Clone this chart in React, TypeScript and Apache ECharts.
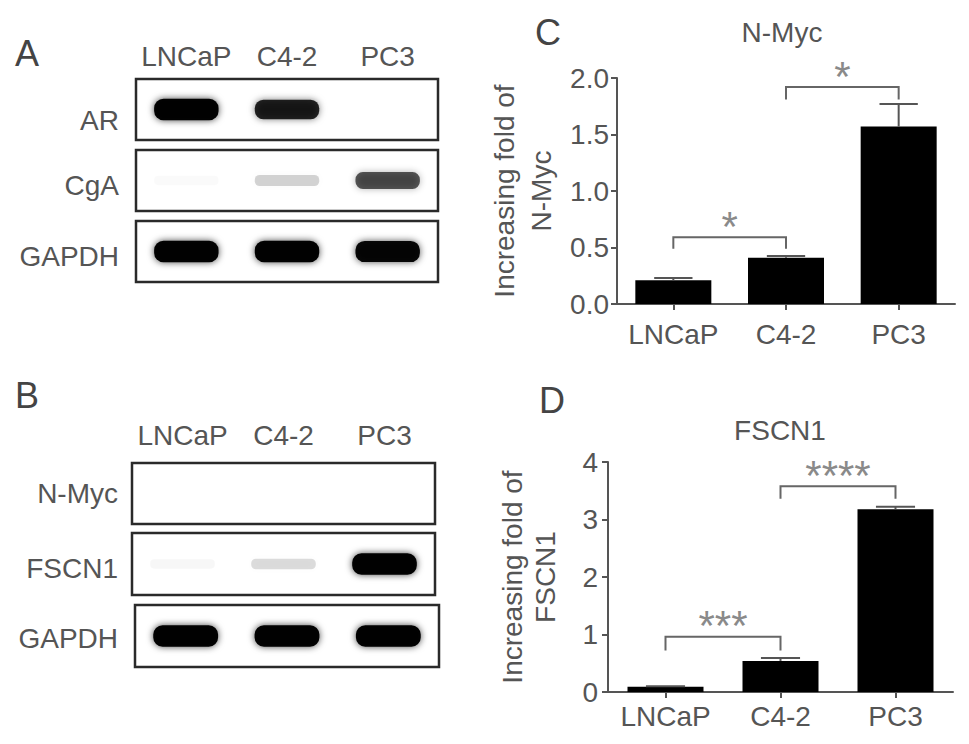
import React, { useEffect, useRef } from "react";
import * as echarts from "echarts";

// ---- data ----
const lanes = ["LNCaP", "C4-2", "PC3"];
const blotRowsA = ["AR", "CgA", "GAPDH"];
const blotRowsB = ["N-Myc", "FSCN1", "GAPDH"];
// band intensity (0 = no band, 1 = saturated)
const arBand = [0.97, 0.82, 0];
const cgaBand = [0.02, 0.16, 0.62];
const gapdhBandA = [0.97, 0.97, 0.94];
const nmycBand = [0, 0, 0];
const fscn1Band = [0.03, 0.13, 0.97];
const gapdhBandB = [0.97, 0.97, 0.97];

const cellLines = ["LNCaP", "C4-2", "PC3"];
const nmycMean = [0.21, 0.41, 1.57];
const nmycSem = [0.02, 0.015, 0.2];
const fscn1Mean = [0.09, 0.54, 3.18];
const fscn1Sem = [0.01, 0.05, 0.04];
const nmycBrackets = [
  { from: 0, to: 1, top: 0.59, leg: 0.49, label: "*" },
  { from: 1, to: 2, top: 1.92, leg: 1.81, label: "*" },
];
const fscn1Brackets = [
  { from: 0, to: 1, top: 0.96, leg: 0.72, label: "***" },
  { from: 1, to: 2, top: 3.58, leg: 3.36, label: "****" },
];

const FONT = "'Liberation Sans', Arial, Helvetica, sans-serif";
const TXT = "#555";

export default function App() {
  const ref = useRef<HTMLDivElement>(null);
  useEffect(() => {
    const chart = echarts.init(ref.current!, null, { renderer: "svg" });

    const blotGrids = [
      { left: 136, top: 79, width: 302, height: 61 },
      { left: 136, top: 150, width: 302, height: 61 },
      { left: 136, top: 221, width: 302, height: 61 },
      { left: 132, top: 463, width: 303, height: 61 },
      { left: 132, top: 533, width: 303, height: 62 },
      { left: 135, top: 605, width: 304, height: 62 },
    ];
    const rowNames = [...blotRowsA, ...blotRowsB];
    const rowShift = [11, 5, 5, 0, 4, 2];
    const rowMargin = [17, 17, 17, 14, 14, 17];
    const bands = [arBand, cgaBand, gapdhBandA, nmycBand, fscn1Band, gapdhBandB];

    const grids: any[] = blotGrids.map((g) => ({
      ...g,
      show: true,
      borderColor: "#2a2a2a",
      borderWidth: 2.5,
      backgroundColor: "#fff",
    }));
    grids.push({ left: 617, top: 78, width: 338, height: 226 });
    grids.push({ left: 608, top: 462, width: 345, height: 230 });

    const xAxes: any[] = blotGrids.map((_, i) => ({
      type: "category",
      gridIndex: i,
      data: lanes,
      position: "top",
      axisLine: { show: false },
      axisTick: { show: false },
      axisLabel: {
        show: i === 0 || i === 3,
        interval: 0,
        fontSize: 28,
        color: TXT,
        fontFamily: FONT,
        margin: i === 0 ? 9 : 14,
      },
    }));
    const yAxes: any[] = blotGrids.map((_, i) => ({
      type: "category",
      gridIndex: i,
      data: [rowNames[i]],
      axisLine: { show: false },
      axisTick: { show: false },
      splitLine: { show: false },
      axisLabel: {
        interval: 0,
        margin: rowMargin[i],
        formatter: (v: string) => `{t|${v}}`,
        rich: {
          t: {
            fontSize: 28,
            color: TXT,
            fontFamily: FONT,
            padding: [rowShift[i] * 2, 0, 0, 0],
          },
        },
      },
    }));

    const axisStyle = { lineStyle: { color: "#555", width: 2 } };
    [6, 7].forEach((gi) => {
      xAxes.push({
        type: "category",
        gridIndex: gi,
        data: cellLines,
        axisLine: axisStyle,
        axisTick: { show: true, alignWithLabel: true, length: 6, lineStyle: { color: "#555", width: 2 } },
        axisLabel: { interval: 0, fontSize: 28, color: TXT, fontFamily: FONT, margin: gi === 6 ? 16 : 10 },
      });
    });
    yAxes.push({
      type: "value",
      gridIndex: 6,
      min: 0,
      max: 2,
      interval: 0.5,
      name: "Increasing fold of\nN-Myc",
      nameLocation: "middle",
      nameRotate: 90,
      nameGap: 57,
      nameTextStyle: { fontSize: 28, color: TXT, fontFamily: FONT, lineHeight: 37 },
      axisLine: { show: true, ...axisStyle },
      axisTick: { show: true, length: 6, lineStyle: { color: "#555", width: 2 } },
      splitLine: { show: false },
      axisLabel: {
        fontSize: 28,
        color: TXT,
        fontFamily: FONT,
        margin: 8,
        formatter: (v: number) => v.toFixed(1),
      },
    });
    yAxes.push({
      type: "value",
      gridIndex: 7,
      min: 0,
      max: 4,
      interval: 1,
      name: "Increasing fold of\nFSCN1",
      nameLocation: "middle",
      nameRotate: 90,
      nameGap: 46,
      nameTextStyle: { fontSize: 28, color: TXT, fontFamily: FONT, lineHeight: 33 },
      axisLine: { show: true, ...axisStyle },
      axisTick: { show: true, length: 6, lineStyle: { color: "#555", width: 2 } },
      splitLine: { show: false },
      axisLabel: { fontSize: 28, color: TXT, fontFamily: FONT, margin: 10 },
    });

    const series: any[] = bands.map((b, i) => ({
      type: "custom",
      xAxisIndex: i,
      yAxisIndex: i,
      encode: { x: 0, y: 1 },
      data: b.map((v, j) => [j, 0, v]),
      renderItem: (params: any, api: any) => {
        const inten = api.value(2);
        if (!inten || inten <= 0) return null;
        const p = api.coord([api.value(0), 0]);
        const w = api.size([1, 0])[0] * 0.64;
        const h = 9 + 13 * inten;
        return {
          type: "rect",
          shape: { x: p[0] - w / 2, y: p[1] - h / 2, width: w, height: h, r: h / 2.3 },
          style: {
            fill: `rgba(0,0,0,${Math.min(1, inten * 1.02)})`,
            shadowBlur: 7,
            shadowColor: `rgba(0,0,0,${inten * 0.75})`,
          },
        };
      },
    }));

    const addBarSet = (gi: number, mean: number[], sem: number[], brackets: any[]) => {
      series.push({
        type: "bar",
        xAxisIndex: gi,
        yAxisIndex: gi,
        data: mean,
        barWidth: 76,
        itemStyle: { color: "#000" },
        z: 2,
      });
      series.push({
        type: "custom",
        xAxisIndex: gi,
        yAxisIndex: gi,
        encode: { x: 0, y: 1 },
        clip: false,
        z: 3,
        data: mean.map((m, i) => [i, m, sem[i]]),
        renderItem: (params: any, api: any) => {
          const c = api.value(0);
          const p0 = api.coord([c, api.value(1)]);
          const p1 = api.coord([c, api.value(1) + api.value(2)]);
          const hw = api.size([1, 0])[0] * 0.17;
          const st = { stroke: "#555", lineWidth: 2 };
          return {
            type: "group",
            children: [
              { type: "line", shape: { x1: p0[0], y1: p0[1], x2: p0[0], y2: p1[1] }, style: st },
              { type: "line", shape: { x1: p0[0] - hw, y1: p1[1], x2: p0[0] + hw, y2: p1[1] }, style: st },
            ],
          };
        },
      });
      series.push({
        type: "custom",
        xAxisIndex: gi,
        yAxisIndex: gi,
        encode: { x: 0, y: 1 },
        clip: false,
        z: 4,
        data: brackets.map((b) => [b.from, b.top]),
        renderItem: (params: any, api: any) => {
          const b = brackets[params.dataIndex];
          const a = api.coord([b.from, b.top]);
          const e = api.coord([b.to, b.top]);
          const l = api.coord([b.from, b.leg]);
          return {
            type: "group",
            children: [
              {
                type: "polyline",
                shape: { points: [[a[0], l[1]], [a[0], a[1]], [e[0], a[1]], [e[0], l[1]]] },
                style: { stroke: "#666", lineWidth: 2, fill: "none" },
              },
              {
                type: "text",
                x: (a[0] + e[0]) / 2,
                y: a[1] - 11,
                style: {
                  text: b.label,
                  fontSize: 42,
                  fontFamily: FONT,
                  fill: "#8a8a8a",
                  align: "center",
                  verticalAlign: "middle",
                },
              },
            ],
          };
        },
      });
    };
    addBarSet(6, nmycMean, nmycSem, nmycBrackets);
    addBarSet(7, fscn1Mean, fscn1Sem, fscn1Brackets);

    const label = (text: string, x: number, y: number, size: number, color: string) => ({
      type: "text",
      x,
      y,
      style: { text, fontSize: size, fontFamily: FONT, fill: color, align: "center", verticalAlign: "middle" },
    });

    chart.setOption({
      animation: false,
      backgroundColor: "#fff",
      textStyle: { fontFamily: FONT },
      grid: grids,
      xAxis: xAxes,
      yAxis: yAxes,
      series,
      graphic: [
        label("A", 27, 53, 36, "#444"),
        label("B", 27, 395, 36, "#444"),
        label("C", 548, 32, 36, "#444"),
        label("D", 552, 400, 36, "#444"),
        label("N-Myc", 782, 32, 28, TXT),
        label("FSCN1", 780, 430, 28, TXT),
      ],
    });
    return () => chart.dispose();
  }, []);
  return (
    <div
      ref={ref}
      style={{ position: "fixed", left: 0, top: 0, width: 969, height: 744, background: "#fff" }}
    />
  );
}
